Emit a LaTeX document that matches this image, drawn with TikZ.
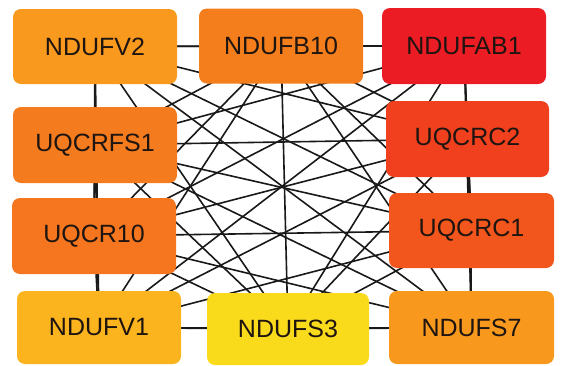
\documentclass[tikz,border=0pt]{standalone}
\usepackage{fontspec}
\setmainfont{Liberation Sans}
\usetikzlibrary{backgrounds}
\definecolor{cV2}{HTML}{F99A1E}
\definecolor{cB10}{HTML}{F47E1C}
\definecolor{cAB1}{HTML}{EC1C24}
\definecolor{cFS1}{HTML}{F47B1E}
\definecolor{cC2}{HTML}{F0401E}
\definecolor{cR10}{HTML}{F5761E}
\definecolor{cC1}{HTML}{F2561C}
\definecolor{cV1}{HTML}{FBB41E}
\definecolor{cS3}{HTML}{FADB1C}
\definecolor{cS7}{HTML}{F8991E}
\definecolor{txt}{HTML}{1E1410}
\tikzset{
  gene/.style={draw=none, rounded corners=8pt, minimum width=164pt, minimum height=75pt,
    inner sep=0pt, text=txt, font=\fontsize{25}{25}\selectfont},
  link/.style={draw=black!90, line width=1.6pt}
}
\begin{document}
\begin{tikzpicture}[x=1pt,y=-1pt]
\useasboundingbox (0,0) rectangle (561,365);
\node[gene, fill=cV2]  (V2)  at (95,46.5)  {NDUFV2};
\node[gene, fill=cB10] (B10) at (281,46)   {NDUFB10};
\node[gene, fill=cAB1, minimum height=76pt] (AB1) at (464,46) {NDUFAB1};
\node[gene, fill=cFS1, minimum height=76pt] (FS1) at (95,145) {UQCRFS1};
\node[gene, fill=cC2, minimum width=163pt, minimum height=76pt] (C2) at (467.5,139) {UQCRC2};
\node[gene, fill=cR10, minimum height=76pt] (R10) at (94,236) {UQCR10};
\node[gene, fill=cC1, minimum width=165pt] (C1) at (471.5,230.5) {UQCRC1};
\node[gene, fill=cV1, minimum height=73pt] (V1) at (99,327.5) {NDUFV1};
\node[gene, fill=cS3, minimum width=162pt, minimum height=72pt] (S3) at (288,329) {NDUFS3};
\node[gene, fill=cS7, minimum width=165pt, minimum height=73pt] (S7) at (471.5,327.5) {NDUFS7};
\begin{pgfonlayer}{background}
\foreach \a [count=\i] in {V2,B10,AB1,FS1,C2,R10,C1,V1,S3,S7}{
  \foreach \b [count=\j] in {V2,B10,AB1,FS1,C2,R10,C1,V1,S3,S7}{
    \ifnum\j>\i
      \draw[link] (\a.center) -- (\b.center);
    \fi
  }
}
\end{pgfonlayer}
\end{tikzpicture}
\end{document}
